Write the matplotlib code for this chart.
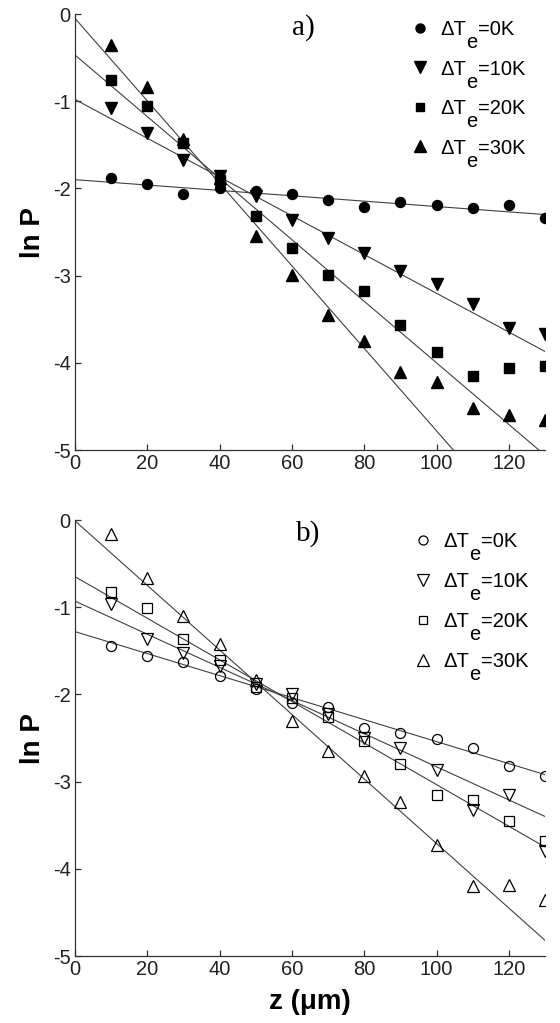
import matplotlib
matplotlib.use("Agg")
import matplotlib.pyplot as plt
import numpy as np

plt.rcParams['font.family'] = ['Liberation Sans', 'DejaVu Sans']
plt.rcParams['axes.unicode_minus'] = False

z = [10, 20, 30, 40, 50, 60, 70, 80, 90, 100, 110, 120, 130]
labels = ['=0K', '=10K', '=20K', '=30K']

# Panel a) data
a_0K = [-1.88, -1.95, -2.06, -1.99, -2.03, -2.06, -2.13, -2.21, -2.16, -2.19, -2.22, -2.19, -2.34]
a_10K = [-1.08, -1.37, -1.67, -1.86, -2.09, -2.36, -2.57, -2.74, -2.95, -3.10, -3.33, -3.60, -3.67]
a_20K = [-0.76, -1.05, -1.48, -1.90, -2.32, -2.68, -2.99, -3.18, -3.57, -3.88, -4.15, -4.06, -4.04]
a_30K = [-0.36, -0.84, -1.43, -1.88, -2.55, -2.99, -3.45, -3.75, -4.11, -4.22, -4.52, -4.60, -4.66]
# fitted lines: value at z=0 and at z=130
a_fit_z = [0, 130]
a_fit_start = [-1.90, -0.98, -0.47, -0.05]
a_fit_end = [-2.30, -3.87, -5.06, -6.20]

# Panel b) data
b_0K = [-1.45, -1.56, -1.63, -1.79, -1.94, -2.10, -2.15, -2.39, -2.44, -2.51, -2.61, -2.82, -2.94]
b_10K = [-0.96, -1.37, -1.52, -1.68, -1.88, -1.99, -2.22, -2.50, -2.61, -2.87, -3.32, -3.15, -3.80]
b_20K = [-0.82, -1.01, -1.37, -1.61, -1.92, -2.04, -2.26, -2.53, -2.80, -3.15, -3.21, -3.45, -3.68]
b_30K = [-0.16, -0.67, -1.10, -1.42, -1.83, -2.31, -2.65, -2.94, -3.23, -3.73, -4.20, -4.19, -4.36]
b_fit_z = [0, 130]
b_fit_start = [-1.28, -0.93, -0.65, -0.01]
b_fit_end = [-2.92, -3.40, -3.75, -4.82]

xticks = [0, 20, 40, 60, 80, 100, 120]
yticks = [0, -1, -2, -3, -4, -5]

markers = ['o', 'v', 's', '^']
msizes = [7.2, 8.8, 6.5, 8.8]
leg_msizes = [6.5, 8.0, 6.0, 8.0]

W, H = 560, 1023
fig = plt.figure(figsize=(W / 100, H / 100), dpi=100)
ax_a = fig.add_axes([75 / W, 1 - 450 / H, 470 / W, 436 / H])
ax_b = fig.add_axes([75 / W, 1 - 956 / H, 470 / W, 436 / H])

line_col = '#404040'
LEG_FS = 14.5


def style(ax):
    ax.set_xlim(0, 130)
    ax.set_ylim(-5, 0)
    ax.set_xticks(xticks)
    ax.set_yticks(yticks)
    for s in ['top', 'right']:
        ax.spines[s].set_visible(False)
    for s in ['left', 'bottom']:
        ax.spines[s].set_color('#333333')
        ax.spines[s].set_linewidth(0.9)
    ax.tick_params(direction='in', length=4, width=0.9, colors='#333333',
                   labelcolor='#222222', labelsize=14.5, pad=3)
    ax.set_ylabel('ln P', fontsize=20, fontweight='bold', labelpad=5)


def legend_rows(ax, handles_style, mx, tx, y0, dy):
    for i in range(4):
        y = y0 - i * dy
        mk, filled = handles_style[i]
        if filled:
            ax.plot([mx], [y], transform=ax.transAxes, clip_on=False, linestyle='none',
                    marker=mk, ms=leg_msizes[i], mfc='black', mec='black')
        else:
            ax.plot([mx], [y], transform=ax.transAxes, clip_on=False, linestyle='none',
                    marker=mk, ms=leg_msizes[i], mfc='none', mec='black', mew=0.9)
        t1 = ax.annotate('ΔT', xy=(tx, y), xycoords='axes fraction', xytext=(0, -5.2),
                         textcoords='offset points', va='baseline', ha='left', fontsize=LEG_FS)
        t2 = ax.annotate('e', xy=(1, 0), xycoords=t1, xytext=(0.3, -6.5),
                         textcoords='offset points', va='baseline', ha='left', fontsize=LEG_FS)
        ax.annotate(labels[i], xy=(1, 0), xycoords=(t2, t1), xytext=(0.3, 0),
                    textcoords='offset points', va='bottom', ha='left', fontsize=LEG_FS)


for ax, series, fs, fe, fz, filled, tag, tagxy, leg in [
        (ax_a, [a_0K, a_10K, a_20K, a_30K], a_fit_start, a_fit_end, a_fit_z, True, 'a)',
         (0.485, 0.968), (0.734, 0.777, 0.968, 0.0906)),
        (ax_b, [b_0K, b_10K, b_20K, b_30K], b_fit_start, b_fit_end, b_fit_z, False, 'b)',
         (0.495, 0.969), (0.740, 0.783, 0.954, 0.0917))]:
    style(ax)
    for i in range(4):
        ax.plot(fz, [fs[i], fe[i]], color=line_col, lw=0.8, zorder=2)
    for i, ys in enumerate(series):
        if filled:
            ax.plot(z, ys, linestyle='none', marker=markers[i], ms=msizes[i],
                    mfc='black', mec='black', zorder=3)
        else:
            ax.plot(z, ys, linestyle='none', marker=markers[i], ms=msizes[i],
                    mfc='none', mec='black', mew=0.9, zorder=3)
    legend_rows(ax, [(m, filled) for m in markers], *leg)
    ax.text(tagxy[0], tagxy[1], tag, transform=ax.transAxes, ha='center', va='center',
            fontsize=21, family=['Liberation Serif', 'DejaVu Serif'])

ax_b.set_xlabel('z (μm)', fontsize=20, fontweight='bold', labelpad=7)

fig.savefig('out.png', dpi=100)
